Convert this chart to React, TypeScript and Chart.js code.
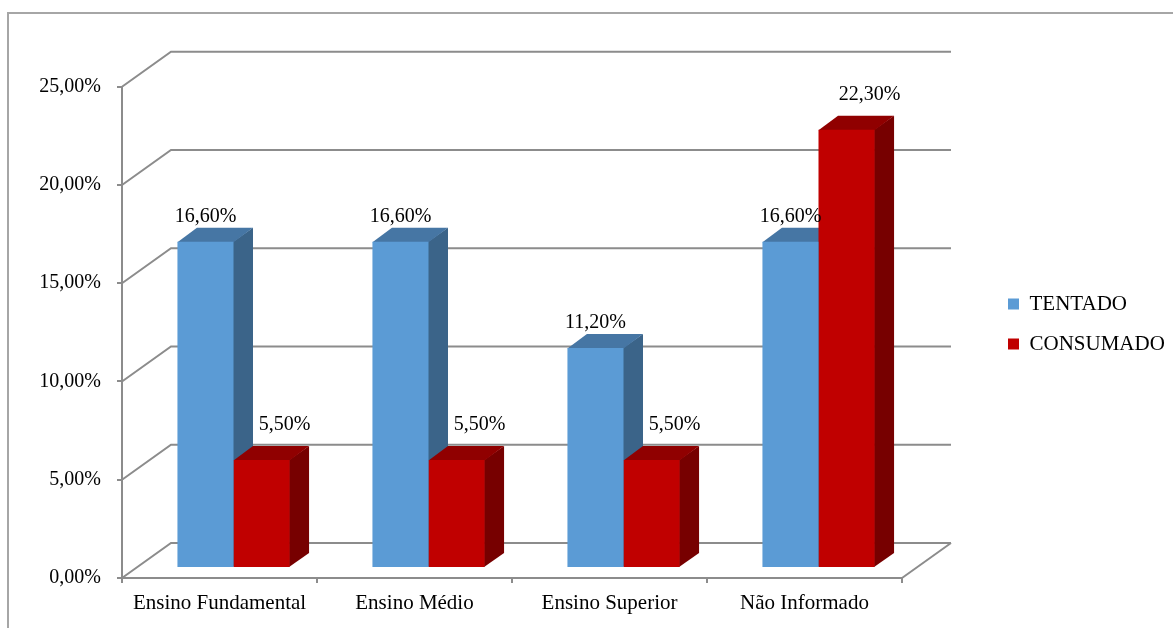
import React, { useEffect, useRef } from 'react';
import { Chart, registerables } from 'chart.js';

Chart.register(...registerables);

// ---- data ----
const categories = ['Ensino Fundamental', 'Ensino Médio', 'Ensino Superior', 'Não Informado'];
const seriesNames = ['TENTADO', 'CONSUMADO'];
const tentado = [16.6, 16.6, 11.2, 16.6];
const consumado = [5.5, 5.5, 5.5, 22.3];
const yTicks = [0, 5, 10, 15, 20, 25];

// ---- style ----
const FONT = "'Liberation Serif', 'Times New Roman', Times, serif";
const GRID = '#8c8c8c';
const frontColors = ['#5b9bd5', '#c00000'];
const faceColors = [
  { top: '#4676a4', side: '#3b6489' },
  { top: '#900000', side: '#770000' },
];
const labelOffsets = [
  { dx: 0, dy: -25 },
  { dx: 23, dy: -35 },
];
const WALL = { dx: 49, dy: -35 };
const BAR_SHIFT = { dx: 14, dy: -10 };
const BAR_DEPTH = { dx: 19.5, dy: -14 };

const fmt = (v: number) => v.toFixed(2).replace('.', ',') + '%';

function poly(ctx: CanvasRenderingContext2D, pts: number[][]) {
  ctx.beginPath();
  ctx.moveTo(pts[0][0], pts[0][1]);
  for (let i = 1; i < pts.length; i++) ctx.lineTo(pts[i][0], pts[i][1]);
  ctx.closePath();
  ctx.fill();
}

const frame3d = {
  id: 'frame3d',
  beforeDraw(chart: any) {
    const ctx = chart.ctx;
    ctx.save();
    ctx.strokeStyle = '#a6a6a6';
    ctx.lineWidth = 2;
    ctx.beginPath();
    ctx.moveTo(8, chart.height + 10);
    ctx.lineTo(8, 13);
    ctx.lineTo(chart.width + 10, 13);
    ctx.stroke();
    ctx.restore();
  },
  beforeDatasetsDraw(chart: any) {
    const { ctx, chartArea, scales } = chart;
    const y = scales.y;
    const L = chartArea.left;
    const R = chartArea.right;
    const y0 = y.getPixelForValue(yTicks[0]);
    const yTop = y.getPixelForValue(yTicks[yTicks.length - 1]);
    ctx.save();
    ctx.strokeStyle = GRID;
    ctx.lineWidth = 2;
    for (const v of yTicks) {
      const yy = y.getPixelForValue(v);
      ctx.beginPath();
      ctx.moveTo(L, yy);
      ctx.lineTo(L + WALL.dx, yy + WALL.dy);
      ctx.lineTo(R + WALL.dx, yy + WALL.dy);
      ctx.stroke();
    }
    ctx.beginPath();
    ctx.moveTo(R, y0);
    ctx.lineTo(R + WALL.dx, y0 + WALL.dy);
    ctx.stroke();
    ctx.beginPath();
    ctx.moveTo(L, y0);
    ctx.lineTo(L, yTop);
    ctx.stroke();
    ctx.restore();

    ctx.save();
    ctx.translate(BAR_SHIFT.dx, BAR_SHIFT.dy);
    const nd = chart.data.datasets.length;
    for (let k = 0; k < categories.length; k++) {
      for (let d = 0; d < nd; d++) {
        const el = chart.getDatasetMeta(d).data[k];
        if (!el) continue;
        const p = el.getProps(['x', 'y', 'base', 'width'], true);
        const l = p.x - p.width / 2;
        const r = p.x + p.width / 2;
        const c = faceColors[d];
        ctx.fillStyle = c.side;
        poly(ctx, [
          [r - 0.5, p.y],
          [r + BAR_DEPTH.dx, p.y + BAR_DEPTH.dy],
          [r + BAR_DEPTH.dx, p.base + BAR_DEPTH.dy],
          [r - 0.5, p.base],
        ]);
        ctx.fillStyle = c.top;
        poly(ctx, [
          [l, p.y + 0.5],
          [l + BAR_DEPTH.dx, p.y + BAR_DEPTH.dy],
          [r + BAR_DEPTH.dx, p.y + BAR_DEPTH.dy],
          [r, p.y + 0.5],
        ]);
      }
    }
    // translation stays active while Chart.js draws the bar fronts
  },
  afterDatasetsDraw(chart: any) {
    const ctx = chart.ctx;
    ctx.fillStyle = '#000';
    ctx.font = `20px ${FONT}`;
    ctx.textAlign = 'center';
    ctx.textBaseline = 'middle';
    chart.data.datasets.forEach((ds: any, d: number) => {
      const meta = chart.getDatasetMeta(d);
      meta.data.forEach((el: any, i: number) => {
        const p = el.getProps(['x', 'y'], true);
        ctx.fillText(fmt(ds.data[i]), p.x + labelOffsets[d].dx, p.y + labelOffsets[d].dy);
      });
    });
    ctx.restore();
  },
};

export default function App() {
  const ref = useRef<HTMLCanvasElement>(null);
  useEffect(() => {
    const chart = new Chart(ref.current as HTMLCanvasElement, {
      type: 'bar',
      data: {
        labels: categories,
        datasets: [
          {
            label: seriesNames[0],
            data: tentado,
            backgroundColor: frontColors[0],
            borderWidth: 0,
            categoryPercentage: 0.575,
            barPercentage: 1,
            clip: false as any,
            xAxisID: 'x',
            yAxisID: 'y',
          },
          {
            label: seriesNames[1],
            data: consumado,
            backgroundColor: frontColors[1],
            borderWidth: 0,
            categoryPercentage: 0.575,
            barPercentage: 1,
            clip: false as any,
            xAxisID: 'x',
            yAxisID: 'y',
          },
        ],
      },
      options: {
        responsive: false,
        animation: false,
        devicePixelRatio: 1,
        events: [],
        layout: { padding: { top: 70, left: 0, right: 0, bottom: 0 } },
        plugins: {
          legend: {
            position: 'right',
            align: 'center',
            fullSize: false,
            maxWidth: 184,
            labels: {
              boxWidth: 11,
              boxHeight: 11,
              padding: 19,
              color: '#000',
              font: { family: FONT, size: 21 },
            },
          },
          tooltip: { enabled: false },
        },
        scales: {
          x: {
            type: 'category',
            position: 'bottom',
            offset: true,
            grid: {
              offset: true,
              drawOnChartArea: false,
              drawTicks: true,
              tickLength: 5,
              color: GRID,
              lineWidth: 2,
            },
            border: { display: true, color: GRID, width: 2 },
            ticks: {
              color: '#000',
              font: { family: FONT, size: 21 },
              padding: 8,
              maxRotation: 0,
              autoSkip: false,
            },
            afterFit: (s: any) => {
              s.height = 50;
            },
          },
          y: {
            type: 'linear',
            position: 'left',
            min: 0,
            max: 25.85,
            afterBuildTicks: (s: any) => {
              s.ticks = yTicks.map((v) => ({ value: v }));
            },
            grid: {
              drawOnChartArea: false,
              drawTicks: true,
              tickLength: 5,
              color: GRID,
              lineWidth: 2,
            },
            border: { display: false },
            ticks: {
              color: '#000',
              font: { family: FONT, size: 20 },
              padding: 16,
              callback: (v: any) => fmt(Number(v)),
            },
            afterFit: (s: any) => {
              s.width = 122;
            },
          },
          yR: {
            type: 'linear',
            position: 'right',
            display: true,
            grid: { display: false },
            border: { display: false },
            ticks: { display: false },
            afterFit: (s: any) => {
              s.width = 87;
            },
          },
        },
      },
      plugins: [frame3d],
    } as any);
    return () => chart.destroy();
  }, []);
  return (
    <canvas
      ref={ref}
      width={1173}
      height={628}
      style={{ position: 'fixed', left: 0, top: 0, width: 1173, height: 628 }}
    />
  );
}
